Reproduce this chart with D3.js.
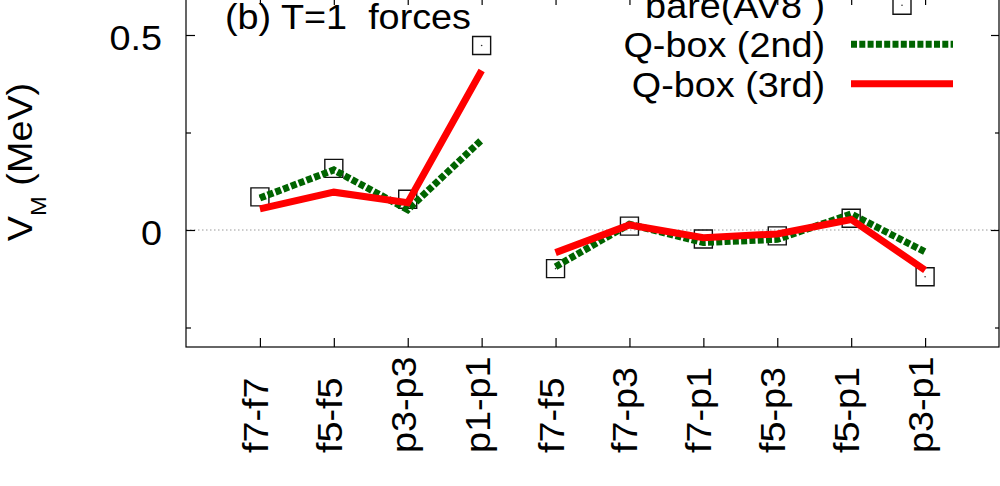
<!DOCTYPE html>
<html>
<head>
<meta charset="utf-8">
<script src="https://cdn.jsdelivr.net/npm/d3@7"></script>
<style>
  html, body { margin: 0; padding: 0; background: #fff; }
  svg { display: block; }
  text { font-family: "Liberation Sans", Arial, Helvetica, sans-serif; fill: #000; }
</style>
</head>
<body>
<svg width="1000" height="486"></svg>
<script>
        // Chart data.
        const categories = ["f7-f7", "f5-f5", "p3-p3", "p1-p1", "f7-f5", "f7-p3", "f7-p1", "f5-p3", "f5-p1", "p3-p1"];
        const segments = [0, 0, 0, 0, 1, 1, 1, 1, 1, 1];  // lines break between the two groups
        const bare = [0.085, 0.158, 0.079, 0.473, -0.099, 0.010, -0.023, -0.015, 0.030, -0.120];
        const qbox2 = [0.082, 0.154, 0.052, 0.231, -0.094, 0.015, -0.032, -0.024, 0.041, -0.056];
        const qbox3 = [0.054, 0.097, 0.070, 0.409, -0.058, 0.013, -0.020, -0.010, 0.027, -0.103];

        const yMajorTicks = [0, 0.5];
        const yTickLabels = ["0", "0.5"];
        const yMinorTicks = [-0.25, 0.25];

        const title = "(b) T=1  forces";
        const legendLabels = ["bare(AV8 )", "Q-box (2nd)", "Q-box (3rd)"];

        // Layout.
        const svg = d3.select("svg");
        const plotLeft = 186, plotRight = 999, plotTop = -4, plotBottom = 347;
        const fontSize = 35;
        const stretch = 1.08;  // the reference font runs a little wide
        const green = "#006400";
        const red = "#ff0000";

        const x = d3.scalePoint().domain(categories).range([plotLeft, plotRight]).padding(1);
        const y = d3.scaleLinear().domain([-0.3, 0.6]).range([plotBottom, plotTop]);

        // Text helper: places a horizontally stretched label.
        function label(parent, tx, ty, str, anchor, rotate) {
            const g = parent.append("g")
                .attr("transform", `translate(${tx},${ty})` + (rotate ? ` rotate(${rotate})` : ""));
            return g.append("text")
                .attr("transform", `scale(${stretch},1)`)
                .attr("text-anchor", anchor)
                .attr("font-size", fontSize)
                .style("white-space", "pre")
                .text(str);
        }

        // Zero line.
        svg.append("line")
            .attr("x1", plotLeft).attr("x2", plotRight)
            .attr("y1", y(0)).attr("y2", y(0))
            .attr("stroke", "#999")
            .attr("stroke-width", 1)
            .attr("stroke-dasharray", "1.5,2.5");

        // Axes: ticks point inward, mirrored on all sides.
        function cleanAxis(g) {
            g.select(".domain").remove();
            g.attr("font-size", null).attr("font-family", null);
            g.selectAll("line").attr("stroke", "#000").attr("stroke-width", 1.2);
        }

        svg.append("g")
            .attr("transform", `translate(${plotLeft},0)`)
            .call(d3.axisLeft(y).tickValues(yMajorTicks).tickSize(-9).tickPadding(24)
                .tickFormat((d, i) => yTickLabels[i]))
            .call(cleanAxis)
            .call(g => g.selectAll(".tick text").each(function () {
                const t = d3.select(this);
                const x0 = +t.attr("x");
                t.attr("x", 0).attr("dy", "0.41em")
                    .attr("font-size", fontSize)
                    .attr("transform", `translate(${x0},0) scale(${stretch},1)`);
            }));

        svg.append("g")
            .attr("transform", `translate(${plotLeft},0)`)
            .call(d3.axisLeft(y).tickValues(yMinorTicks).tickSize(-5).tickFormat(""))
            .call(cleanAxis);

        svg.append("g")
            .attr("transform", `translate(${plotRight},0)`)
            .call(d3.axisRight(y).tickValues(yMajorTicks).tickSize(-8).tickFormat(""))
            .call(cleanAxis);

        svg.append("g")
            .attr("transform", `translate(${plotRight},0)`)
            .call(d3.axisRight(y).tickValues(yMinorTicks).tickSize(-4).tickFormat(""))
            .call(cleanAxis);

        svg.append("g")
            .attr("transform", `translate(0,${plotBottom})`)
            .call(d3.axisBottom(x).tickSize(-9).tickFormat(""))
            .call(cleanAxis);

        svg.append("g")
            .attr("transform", `translate(0,${plotTop})`)
            .call(d3.axisTop(x).tickSize(-9).tickFormat(""))
            .call(cleanAxis);

        // Frame.
        svg.append("rect")
            .attr("x", plotLeft).attr("y", plotTop)
            .attr("width", plotRight - plotLeft).attr("height", plotBottom - plotTop)
            .attr("fill", "none")
            .attr("stroke", "#000")
            .attr("stroke-width", 1.2);

        // Rotated category labels, all starting from the same baseline row.
        categories.forEach(c => label(svg, x(c) + 8, 453, c, "start", -90));

        // Y axis title with subscript.
        const yTitle = label(svg, 32, 162, "", "middle", -90);
        yTitle.append("tspan").text("V");
        yTitle.append("tspan").attr("font-size", 22).attr("dy", 14).text("M");
        yTitle.append("tspan").attr("dy", -14).text(" (MeV)");

        // Panel title.
        label(svg, 225, 29, title, "start");

        // Series rows, grouped into the two line segments.
        const rows = categories.map((c, i) => ({
            cat: c, seg: segments[i], bare: bare[i], q2: qbox2[i], q3: qbox3[i]
        }));
        const groups = Array.from(d3.group(rows, d => d.seg).values());

        // Bare points: open squares with a centre dot.
        const square = d3.symbol().type(d3.symbolSquare).size(18 * 18);
        const points = svg.append("g").selectAll("g")
            .data(rows)
            .enter()
            .append("g")
            .attr("transform", d => `translate(${x(d.cat)},${y(d.bare)})`);
        points.append("path")
            .attr("d", square)
            .attr("fill", "none")
            .attr("stroke", "#111")
            .attr("stroke-width", 1.4);
        points.append("circle")
            .attr("r", 0.8)
            .attr("fill", "#333");

        // Q-box lines.
        const line2 = d3.line().x(d => x(d.cat)).y(d => y(d.q2));
        const line3 = d3.line().x(d => x(d.cat)).y(d => y(d.q3));

        svg.append("g").selectAll("path")
            .data(groups)
            .enter()
            .append("path")
            .attr("d", line2)
            .attr("fill", "none")
            .attr("stroke", green)
            .attr("stroke-width", 7)
            .attr("stroke-dasharray", "6,2.3");

        svg.append("g").selectAll("path")
            .data(groups)
            .enter()
            .append("path")
            .attr("d", line3)
            .attr("fill", "none")
            .attr("stroke", red)
            .attr("stroke-width", 7)
            .attr("stroke-linejoin", "miter");

        // Legend, top right.
        const legendY = [5.3, 44.3, 83.7];
        const legendX0 = 851, legendX1 = 953;
        legendLabels.forEach((t, i) => label(svg, 825, legendY[i] + 13, t, "end"));

        const legendMark = svg.append("g")
            .attr("transform", `translate(${(legendX0 + legendX1) / 2},${legendY[0]})`);
        legendMark.append("path")
            .attr("d", square)
            .attr("fill", "none")
            .attr("stroke", "#111")
            .attr("stroke-width", 1.4);
        legendMark.append("circle").attr("r", 0.8).attr("fill", "#333");

        svg.append("line")
            .attr("x1", legendX0).attr("x2", legendX1)
            .attr("y1", legendY[1]).attr("y2", legendY[1])
            .attr("stroke", green)
            .attr("stroke-width", 7)
            .attr("stroke-dasharray", "6,2.3");

        svg.append("line")
            .attr("x1", legendX0).attr("x2", legendX1)
            .attr("y1", legendY[2]).attr("y2", legendY[2])
            .attr("stroke", red)
            .attr("stroke-width", 7);
</script>
</body>
</html>
